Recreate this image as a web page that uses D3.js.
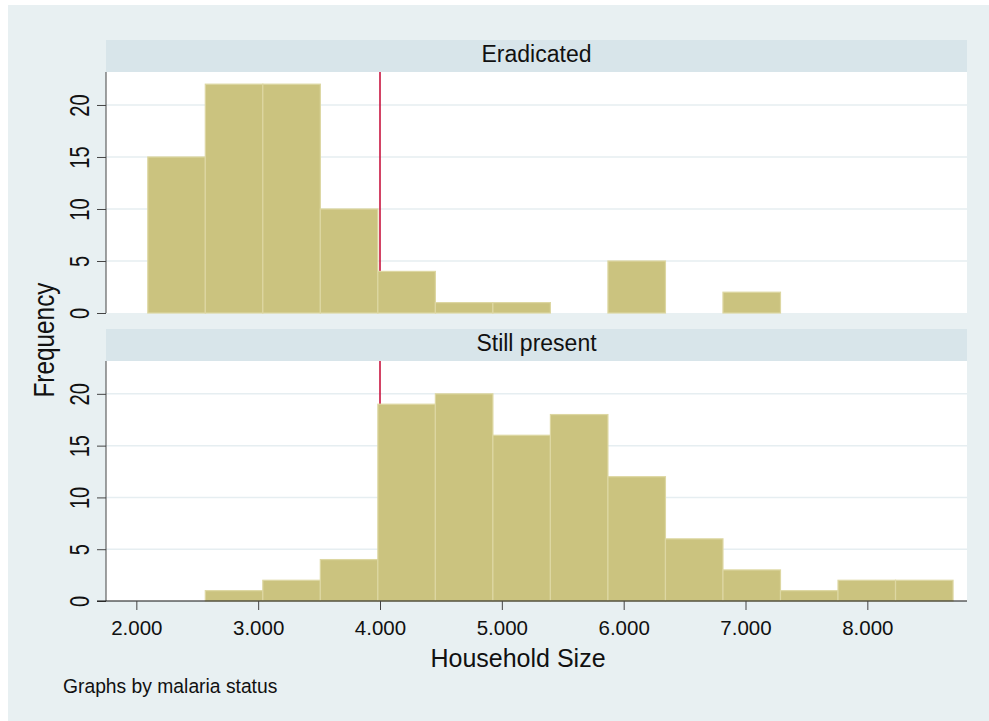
<!DOCTYPE html>
<html>
<head>
<meta charset="utf-8">
<script src="https://cdn.jsdelivr.net/npm/d3@7"></script>
<style>
  html, body { margin: 0; padding: 0; background: #ffffff; }
  svg { display: block; font-family: "Liberation Sans", Arial, Helvetica, sans-serif; }
</style>
</head>
<body>
<svg id="chart" width="989" height="721"></svg>
<script>
// Histogram bins shared by both panels (household size)
const binStart = 2.094;
const binWidth = 0.4721;
const binCount = 14;

// Frequencies per bin, one array per malaria status
const panelNames = ["Eradicated", "Still present"];
const eradicatedCounts = [15, 22, 22, 10, 4, 1, 1, 0, 5, 0, 2, 0, 0, 0];
const stillPresentCounts = [0, 1, 2, 4, 19, 20, 16, 18, 12, 6, 3, 1, 2, 2];

const xTicks = [2, 3, 4, 5, 6, 7, 8];
const yTicks = [0, 5, 10, 15, 20];
const referenceLine = 4;

const xTitle = "Household Size";
const yTitle = "Frequency";
const note = "Graphs by malaria status";

const svg = d3.select("#chart");
const W = 989, H = 721;
const FONT = "Liberation Sans, Arial, sans-serif";

// Graph region background
svg.append("rect").attr("x", 8).attr("y", 5).attr("width", W - 8).attr("height", H - 5)
  .attr("fill", "#e8f0f2");

const plotLeft = 106, plotRight = 967;
const x = d3.scaleLinear().domain([1.751, 8.818]).range([plotLeft, plotRight]);

const panels = [
  { name: panelNames[0], counts: eradicatedCounts, stripTop: 40, top: 72, bottom: 313, xAxis: false },
  { name: panelNames[1], counts: stillPresentCounts, stripTop: 329, top: 361, bottom: 601, xAxis: true }
];

const bins = d3.range(binCount).map(i => ({ x0: binStart + i * binWidth, x1: binStart + (i + 1) * binWidth }));

panels.forEach(p => {
  const y = d3.scaleLinear().domain([0, 23.17]).range([p.bottom, p.top]);
  const g = svg.append("g");

  // strip with panel title
  g.append("rect").attr("x", plotLeft).attr("y", p.stripTop)
    .attr("width", plotRight - plotLeft).attr("height", p.top - p.stripTop)
    .attr("fill", "#d8e5ea");
  g.append("text").attr("x", (plotLeft + plotRight) / 2).attr("y", p.stripTop + 22)
    .attr("text-anchor", "middle").attr("font-size", 23).attr("fill", "#111")
    .text(p.name);

  // plot area
  g.append("rect").attr("x", plotLeft).attr("y", p.top)
    .attr("width", plotRight - plotLeft).attr("height", p.bottom - p.top)
    .attr("fill", "#ffffff");

  // horizontal grid lines
  g.selectAll(".grid").data(yTicks.filter(t => t > 0)).join("line")
    .attr("x1", plotLeft).attr("x2", plotRight)
    .attr("y1", d => y(d)).attr("y2", d => y(d))
    .attr("stroke", "#e6eef1").attr("stroke-width", 1.5);

  // reference line at household size 4
  g.append("line").attr("x1", x(referenceLine)).attr("x2", x(referenceLine))
    .attr("y1", p.top).attr("y2", p.bottom)
    .attr("stroke", "#c8143f").attr("stroke-width", 1.6);

  // bars
  g.selectAll(".bar").data(bins.map((b, i) => ({ ...b, n: p.counts[i] })).filter(d => d.n > 0))
    .join("rect")
    .attr("x", d => x(d.x0)).attr("width", d => x(d.x1) - x(d.x0))
    .attr("y", d => y(d.n)).attr("height", d => y(0) - y(d.n))
    .attr("fill", "#cbc37f").attr("stroke", "#ddd7a2").attr("stroke-width", 1.2);

  // y axis with rotated, condensed tick labels
  const yAxis = g.append("g").attr("transform", `translate(${plotLeft},0)`)
    .call(d3.axisLeft(y).tickValues(yTicks).tickSize(9).tickFormat(d3.format("d")));
  yAxis.select(".domain").attr("stroke", "#444").attr("d", `M0,${p.top}V${p.bottom}`);
  yAxis.selectAll(".tick line").attr("stroke", "#444");
  yAxis.selectAll(".tick text").remove();
  yAxis.selectAll(".tick").append("text")
    .attr("transform", "translate(-17,0) rotate(-90) scale(0.72,1)")
    .attr("text-anchor", "middle")
    .attr("font-size", 28).attr("fill", "#111").attr("font-family", FONT)
    .text(d => d3.format("d")(d));

  if (p.xAxis) {
    const xAxis = g.append("g").attr("transform", `translate(0,${p.bottom})`)
      .call(d3.axisBottom(x).tickValues(xTicks).tickSize(9).tickPadding(10).tickFormat(d3.format(".3f")));
    xAxis.select(".domain").attr("stroke", "#111").attr("d", `M${plotLeft - 9},0H${plotRight}`);
    xAxis.selectAll(".tick line").attr("stroke", "#444");
    xAxis.selectAll(".tick text").attr("font-size", 20.5).attr("fill", "#111")
      .attr("font-family", FONT);
  }
});

// axis titles and note
svg.append("text").attr("x", 518).attr("y", 667)
  .attr("text-anchor", "middle").attr("font-size", 25).attr("fill", "#111").text(xTitle);
svg.append("text").attr("transform", "translate(54,340) rotate(-90) scale(0.84,1)")
  .attr("text-anchor", "middle").attr("font-size", 29).attr("fill", "#111").text(yTitle);
svg.append("text").attr("x", 63).attr("y", 693)
  .attr("font-size", 19.3).attr("fill", "#111").text(note);
</script>
</body>
</html>
